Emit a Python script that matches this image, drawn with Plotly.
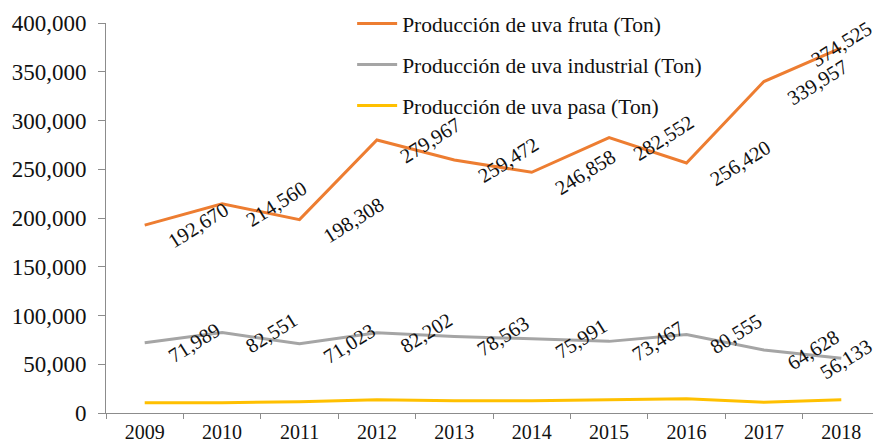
import plotly.graph_objects as go

years = ["2009", "2010", "2011", "2012", "2013", "2014", "2015", "2016", "2017", "2018"]
uva_fruta = [192670, 214560, 198308, 279967, 259472, 246858, 282552, 256420, 339957, 374525]
uva_industrial = [71989, 82551, 71023, 82202, 78563, 75991, 73467, 80555, 64628, 56133]
uva_pasa = [10500, 10500, 11500, 13500, 12500, 12500, 13500, 14500, 11000, 13500]

names = ["Producción de uva fruta (Ton)", "Producción de uva industrial (Ton)", "Producción de uva pasa (Ton)"]
colors = ["#ED7D31", "#A5A5A5", "#FFC000"]
FONT = "Liberation Serif, Times New Roman, serif"
TXT = "#111111"

fig = go.Figure()
for i, (vals, name, col) in enumerate(zip([uva_fruta, uva_industrial, uva_pasa], names, colors)):
    fig.add_trace(go.Scatter(x=years, y=vals, mode="lines", name=name,
                             line=dict(color=col, width=3), legendgroup=f"g{i}"))

def add_labels(vals, xs, last_shift):
    for j, v in enumerate(vals):
        last = j == len(vals) - 1
        fig.add_annotation(x=j, y=v, xref="x", yref="y", text=f"{v:,}", showarrow=False,
                           textangle=-32,
                           xshift=last_shift[0] if last else xs,
                           yshift=last_shift[1] if last else 0,
                           font=dict(family=FONT, size=20.5, color=TXT))

add_labels(uva_fruta, 54, (0, 4))
add_labels(uva_industrial, 49, (5, -1))

fig.update_layout(
    width=873, height=440,
    margin=dict(l=98, r=1, t=15, b=35, autoexpand=False),
    plot_bgcolor="white", paper_bgcolor="white",
    font=dict(family=FONT, size=21, color=TXT),
    showlegend=True,
    legend=dict(x=0.318, y=1.051, xanchor="left", yanchor="top", itemwidth=40,
                bgcolor="rgba(0,0,0,0)", font=dict(family=FONT, size=21.5, color=TXT),
                tracegroupgap=10),
    xaxis=dict(type="category", showline=True, linecolor="#8c8c8c", linewidth=1,
               ticks="outside", tickson="boundaries", ticklen=5, tickcolor="#8c8c8c",
               showgrid=False, zeroline=False, range=[-0.5, 9.5], automargin=False,
               tickfont=dict(size=20), ticklabelstandoff=1),
    yaxis=dict(range=[0, 400000], dtick=50000, tickformat=",", showline=True,
               linecolor="#8c8c8c", linewidth=1, ticks="outside", ticklen=7,
               tickcolor="#8c8c8c", showgrid=False, zeroline=False, automargin=False,
               tickfont=dict(size=23), ticklabelstandoff=7),
)

fig.write_html("out.html")
